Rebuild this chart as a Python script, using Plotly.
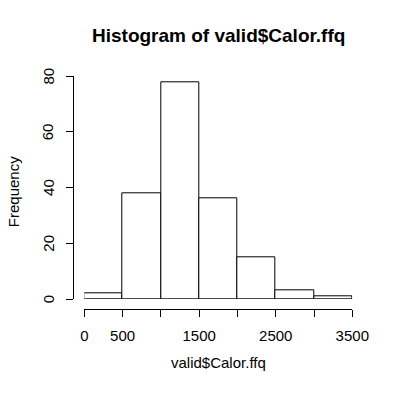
import plotly.graph_objects as go

bin_starts = [0, 500, 1000, 1500, 2000, 2500, 3000]
bin_width = 500
counts = [2, 38, 78, 36, 15, 3, 1]
x_tick_vals = [0, 500, 1000, 1500, 2000, 2500, 3000, 3500]
x_tick_text = ["0", "500", "", "1500", "", "2500", "", "3500"]
y_tick_vals = [0, 20, 40, 60, 80]

W, H = 401, 400
font = "Liberation Sans, Arial, sans-serif"

fig = go.Figure(go.Bar(
    x=[s + bin_width / 2 for s in bin_starts],
    y=counts,
    width=bin_width,
    marker=dict(color="white", line=dict(color="black", width=1)),
    hoverinfo="x+y",
))

x0p, x1p = 84.3, 352.3
y0p, y1p = 299.0, 76.3

y_label_annotations = [
    dict(text=str(v), x=48.3 / W, y=v, xref="paper", yref="y",
         showarrow=False, textangle=-90, xanchor="center", yanchor="middle",
         font=dict(size=15, family=font, color="black"))
    for v in y_tick_vals
]

fig.update_layout(
    template="none",
    width=W, height=H, autosize=False,
    margin=dict(l=0, r=0, t=0, b=0, pad=0),
    paper_bgcolor="white", plot_bgcolor="white",
    showlegend=False,
    bargap=0,
    font=dict(family=font, size=15, color="black"),
    xaxis=dict(
        domain=[x0p / W, x1p / W],
        range=[0, 3500],
        anchor="free", position=(H - 308.5) / H,
        automargin=False,
        showgrid=False, zeroline=False,
        showline=True, linecolor="black", linewidth=1,
        ticks="outside", ticklen=7, tickcolor="black", tickwidth=1,
        tickvals=x_tick_vals, ticktext=x_tick_text,
        ticklabelstandoff=6,
        tickfont=dict(size=15, family=font, color="black"),
    ),
    yaxis=dict(
        domain=[(H - y0p) / H, (H - y1p) / H],
        range=[0, 80],
        anchor="free", position=72.7 / W,
        automargin=False,
        showgrid=False, zeroline=False,
        showline=True, linecolor="black", linewidth=1,
        ticks="outside", ticklen=7, tickcolor="black", tickwidth=1,
        tickvals=y_tick_vals, showticklabels=False,
    ),
    annotations=[
        dict(text="<b>Histogram of valid$Calor.ffq</b>", x=218.3 / W, y=(H - 35) / H,
             xref="paper", yref="paper", showarrow=False,
             xanchor="center", yanchor="middle",
             font=dict(size=19, family=font, color="black")),
        dict(text="valid$Calor.ffq", x=218.3 / W, y=(H - 362) / H,
             xref="paper", yref="paper", showarrow=False,
             xanchor="center", yanchor="middle",
             font=dict(size=15, family=font, color="black")),
        dict(text="Frequency", x=13.5 / W, y=(H - 191.7) / H,
             xref="paper", yref="paper", showarrow=False, textangle=-90,
             xanchor="center", yanchor="middle",
             font=dict(size=15, family=font, color="black")),
    ] + y_label_annotations,
)

fig.write_html("out.html", config={"displayModeBar": False},
               post_script="document.body.style.margin='0';")
